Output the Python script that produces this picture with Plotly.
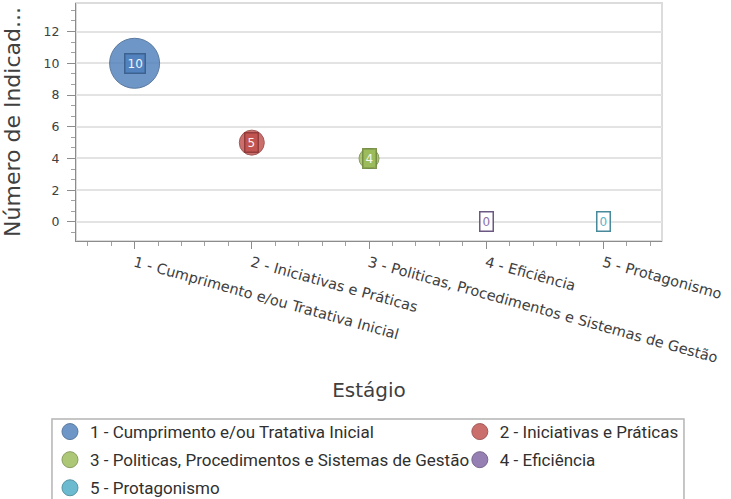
import plotly.graph_objects as go

# ---- data ----
categories = [
    "1 - Cumprimento e/ou Tratativa Inicial",
    "2 - Iniciativas e Práticas",
    "3 - Politicas, Procedimentos e Sistemas de Gestão",
    "4 - Eficiência",
    "5 - Protagonismo",
]
stage_index = [1, 2, 3, 4, 5]
values = [10, 5, 4, 0, 0]
y_tick_values = [0, 2, 4, 6, 8, 10, 12]

# ---- styles ----
fill_colors = ["#4F81BD", "#C0504D", "#9BBB59", "#8064A2", "#4BACC6"]
edge_colors = ["#385D8A", "#8C3836", "#71893F", "#5C4776", "#357D91"]
legend_of = ["legend", "legend2", "legend", "legend2", "legend"]
text_font = "DejaVu Sans"
legend_font = "Roboto"

fig = go.Figure()
for i, name in enumerate(categories):
    # bubble (data mark)
    fig.add_trace(go.Scatter(
        x=[stage_index[i]], y=[values[i]],
        mode="markers", name=name, showlegend=False,
        legendgroup=f"g{i}",
        marker=dict(size=[values[i]], sizemode="diameter", sizeref=0.2,
                    color=fill_colors[i], opacity=0.82,
                    line=dict(color=edge_colors[i], width=1)),
        hoverinfo="x+y",
    ))
    # legend entry (no data)
    fig.add_trace(go.Scatter(
        x=[None], y=[None], mode="markers", name=name,
        legend=legend_of[i], legendgroup=f"g{i}", showlegend=True,
        marker=dict(size=16, color=fill_colors[i], opacity=0.82,
                    line=dict(color=edge_colors[i], width=1)),
    ))
    positive = values[i] > 0
    fig.add_annotation(
        x=stage_index[i], y=values[i], text=str(values[i]), showarrow=False,
        font=dict(family=text_font, size=12,
                  color="white" if positive else fill_colors[i]),
        bgcolor=fill_colors[i] if positive else "white",
        bordercolor=edge_colors[i], borderwidth=1.5, borderpad=2,
        opacity=0.9,
    )

legend_common = dict(
    orientation="v", xanchor="left", yanchor="top",
    borderwidth=0, bgcolor="rgba(0,0,0,0)",
    itemsizing="trace", traceorder="grouped", tracegroupgap=3,
    font=dict(family=legend_font, size=17, color="#303030"),
)

fig.update_layout(
    width=731, height=499,
    margin=dict(l=76, r=69, t=3, b=258, autoexpand=False),
    paper_bgcolor="white", plot_bgcolor="white",
    font=dict(family=text_font, color="#404040"),
    showlegend=True,
    legend=dict(x=-0.0444, y=-0.727, **legend_common),
    legend2=dict(x=0.655, y=-0.727, **legend_common),
    shapes=[
        dict(type="rect", xref="paper", yref="paper", x0=0, x1=1, y0=0, y1=1,
             line=dict(color="#dcdcdc", width=2), layer="below"),
        dict(type="rect", xref="paper", yref="paper", x0=-0.041, x1=1.0375,
             y0=-1.2, y1=-0.748, line=dict(color="#b4b4b4", width=1.5), layer="below"),
    ],
)

fig.update_xaxes(
    range=[0.5, 5.5], tickvals=stage_index, ticktext=categories,
    tickangle=15.5, ticks="outside", ticklen=7, tickcolor="#8c8c8c",
    ticklabeloverflow="allow",
    minor=dict(dtick=0.2, tick0=0, ticks="outside", ticklen=4, tickcolor="#a0a0a0"),
    showline=True, linecolor="#8c8c8c", linewidth=1,
    showgrid=False, zeroline=False,
    tickfont=dict(family=text_font, size=14.5, color="#404040"),
    title=dict(text="Estágio", font=dict(family=text_font, size=20, color="#404040"), standoff=18),
)
fig.update_yaxes(
    range=[-1.2, 13.8], tickvals=y_tick_values,
    ticks="outside", ticklen=8, tickcolor="#8c8c8c", ticklabelstandoff=5,
    minor=dict(dtick=2 / 3, tick0=0, ticks="outside", ticklen=4, tickcolor="#a0a0a0", showgrid=False),
    showline=True, linecolor="#8c8c8c", linewidth=1,
    showgrid=True, gridcolor="#e3e3e3", gridwidth=2, zeroline=False,
    tickfont=dict(family=text_font, size=12.5, color="#404040"),
    title=dict(text="Número de Indicad...", font=dict(family=text_font, size=22, color="#404040"), standoff=16),
)

fig.write_html("out.html", config={"displayModeBar": False},
               post_script="document.body.style.margin='0px';")
